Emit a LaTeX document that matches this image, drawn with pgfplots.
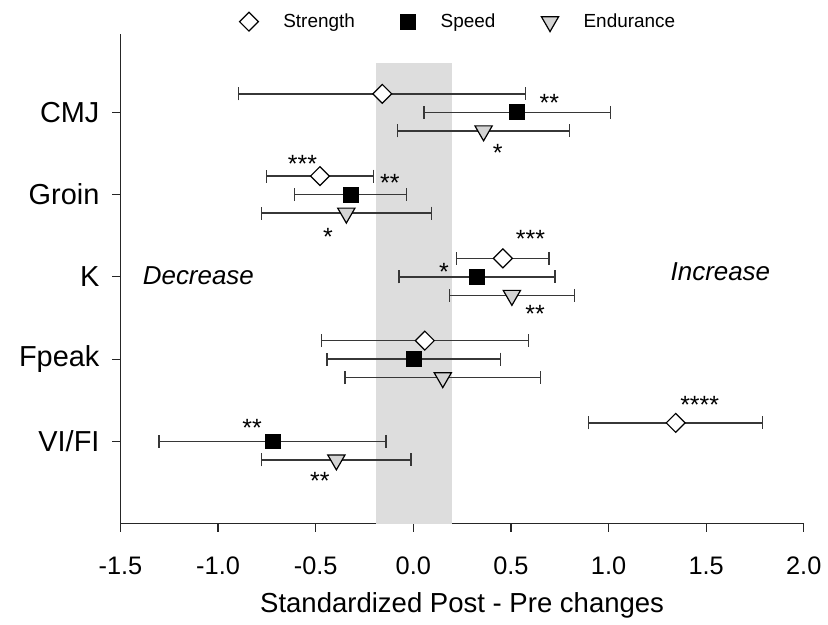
\documentclass[border=0pt]{standalone}
\usepackage{fontspec}
\setmainfont{Liberation Sans}
\usepackage{pgfplots}
\pgfplotsset{compat=1.18}

\definecolor{bandgray}{RGB}{221,221,221}
\definecolor{trigray}{RGB}{212,212,212}
\definecolor{bargray}{RGB}{55,55,55}

\tikzset{
    star/.style={font=\fontsize{12.5}{14}\selectfont, yshift=-2.6pt},
    note/.style={font=\fontsize{13}{15}\selectfont\itshape},
}

\begin{document}
\begin{tikzpicture}
\begin{axis}[
    scale only axis,
    width=342.6pt, height=245.4pt,
    xmin=-1.5, xmax=2, ymin=0, ymax=5.95,
    axis x line*=bottom, axis y line*=left,
    axis line style={line width=0.6pt, black!85},
    tick align=outside, major tick length=4pt,
    tick style={line width=0.6pt, black!85},
    xtick={-1.5,-1,...,2},
    xticklabels={-1.5,-1.0,-0.5,0.0,0.5,1.0,1.5,2.0},
    ytick={1,2,3,4,5},
    yticklabels={VI/FI,Fpeak,K,Groin,CMJ},
    xticklabel style={font=\fontsize{12.7}{15}\selectfont, yshift=-9pt},
    yticklabel style={font=\fontsize{14.5}{17}\selectfont, xshift=-3pt},
    xlabel={Standardized Post - Pre changes},
    xlabel style={font=\fontsize{13.8}{16}\selectfont, at={(axis description cs:0.5,0)}, anchor=base, yshift=-44.5pt},
    clip=false,
    legend columns=3,
    legend style={draw=none, fill=none, at={(0.496,1)}, anchor=center, yshift=6.3pt,
        font=\fontsize{9.5}{11}\selectfont,
        /tikz/every odd column/.append style={column sep=10.5pt},
        /tikz/every even column/.append style={column sep=21pt}},
    error bars/x dir=both, error bars/x explicit,
    error bars/error mark=|,
    error bars/error bar style={line width=0.7pt, bargray},
    error bars/error mark options={line width=0.7pt, bargray, mark size=3.25pt},
]
% invisible frame: the full canvas
\path (axis cs:-2.117,6.366) rectangle (axis cs:2.112,-1.161);
% trivial-change band
\fill[bandgray] (axis cs:-0.19,0) rectangle (axis cs:0.2,5.6);

% Strength
\addplot[only marks, mark=square*, mark size=3.35pt,
    mark options={rotate=45, fill=white, draw=black, line width=0.6pt}]
coordinates {
    (-0.159,5.225) +- (0.735,0)
    (-0.478,4.225) +- (0.274,0)
    (0.459,3.225) +- (0.237,0)
    (0.059,2.225) +- (0.530,0)
    (1.344,1.225) +- (0.446,0)
};
\addlegendentry{Strength}

% Speed
\addplot[only marks, mark=square*, mark size=3.75pt,
    mark options={fill=black, draw=black}]
coordinates {
    (0.532,5) +- (0.478,0)
    (-0.321,4) +- (0.287,0)
    (0.326,3) +- (0.399,0)
    (0.003,2) +- (0.445,0)
    (-0.721,1) +- (0.582,0)
};
\addlegendentry{Speed}

% Endurance
\addplot[only marks, mark=triangle*, mark size=5pt,
    mark options={rotate=180, fill=trigray, draw=black, line width=0.6pt}]
coordinates {
    (0.360,4.775) +- (0.440,0)
    (-0.343,3.775) +- (0.435,0)
    (0.505,2.775) +- (0.321,0)
    (0.151,1.775) +- (0.500,0)
    (-0.394,0.775) +- (0.382,0)
};
\addlegendentry{Endurance}

% significance marks
\node[star] at (axis cs:0.697,5.175) {**};
\node[star] at (axis cs:0.432,4.568) {*};
\node[star] at (axis cs:-0.568,4.433) {***};
\node[star] at (axis cs:-0.120,4.202) {**};
\node[star] at (axis cs:-0.437,3.548) {*};
\node[star] at (axis cs:0.600,3.525) {***};
\node[star] at (axis cs:0.157,3.125) {*};
\node[star] at (axis cs:0.624,2.616) {**};
\node[star] at (axis cs:1.467,1.509) {****};
\node[star] at (axis cs:-0.826,1.223) {**};
\node[star] at (axis cs:-0.479,0.581) {**};

\node[note] at (axis cs:-1.101,3.02) {Decrease};
\node[note] at (axis cs:1.573,3.06) {Increase};
\end{axis}
\end{tikzpicture}
\end{document}
